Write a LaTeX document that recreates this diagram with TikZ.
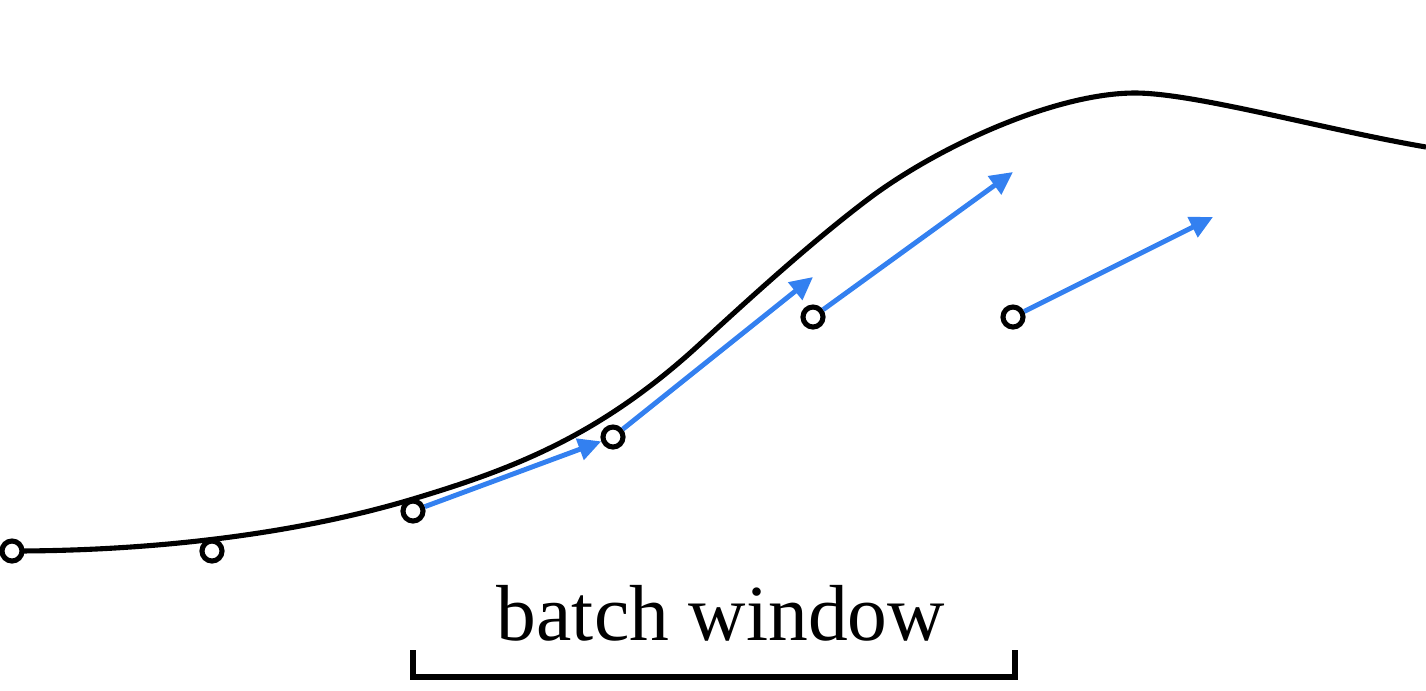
\documentclass[tikz,border=0pt]{standalone}
\usepackage{fontspec}
\setmainfont{Liberation Serif}
\usetikzlibrary{arrows.meta}
\definecolor{arrowblue}{RGB}{51,128,240}
\begin{document}
\begin{tikzpicture}[x=0.01cm,y=-0.01cm,
  pt/.style={circle,draw=black,fill=white,line width=1.45pt,inner sep=0pt,minimum size=0.2cm},
  curve/.style={draw=black,line width=1.45pt},
  move/.style={draw=arrowblue,line width=1.4pt,-{Triangle[length=6.5pt,width=6.2pt]}},
  bracket/.style={draw=black,line width=1.45pt},
  lbl/.style={font=\fontsize{22.6}{27}\selectfont,anchor=base,inner sep=0pt}]
\useasboundingbox (0,0) rectangle (1426,690);
\draw[curve] (12,551) .. controls (150,551) and (293,535) .. (413,499)
  .. controls (513,469) and (600,436) .. (700,344)
  .. controls (755,293.4) and (812,241.8) .. (867,200)
  .. controls (937,146.8) and (1055,93) .. (1135,93)
  .. controls (1195,93) and (1326,130) .. (1426,147);
\node[pt] (c1) at (12,551) {};
\node[pt] (c2) at (212,551) {};
\node[pt] (c3) at (413,511) {};
\node[pt] (c4) at (613,437) {};
\node[pt] (c5) at (813,317) {};
\node[pt] (c6) at (1013,317) {};
\coordinate (t4) at (813,277);
\coordinate (t5) at (1013,172);
\coordinate (t6) at (1213,217);
\draw[move] (c3) -- (c4);
\draw[move] (c4) -- (t4);
\draw[move] (c5) -- (t5);
\draw[move] (c6) -- (t6);
\coordinate (bl) at (413,650);
\coordinate (br) at (1015,650);
\draw[bracket] (bl) -- (413,677) -- (1015,677) -- (br);
\node[lbl] (label) at (721,640) {batch window};
\end{tikzpicture}
\end{document}
